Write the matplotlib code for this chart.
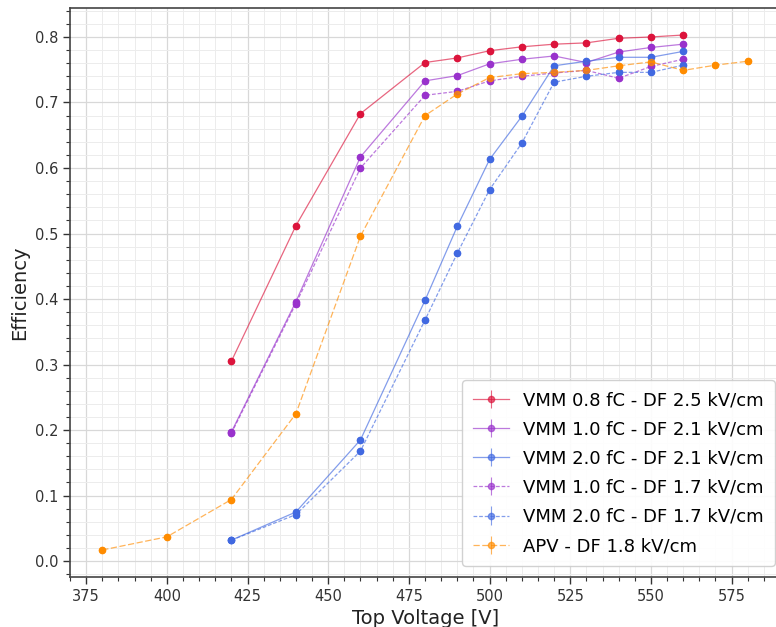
import numpy as np
import matplotlib.pyplot as plt
from matplotlib.ticker import MultipleLocator

# Top voltage scan points [V]
v_vmm = [420, 440, 460, 480, 490, 500, 510, 520, 530, 540, 550, 560]
v_apv = [380, 400, 420, 440, 460, 480, 490, 500, 510, 520, 530, 540, 550, 560, 570, 580]

# Efficiencies per configuration
eff_vmm08_df25 = [0.305, 0.512, 0.683, 0.761, 0.768, 0.779, 0.785, 0.789, 0.791, 0.798, 0.800, 0.803]
eff_vmm10_df21 = [0.197, 0.396, 0.617, 0.733, 0.741, 0.759, 0.766, 0.771, 0.761, 0.777, 0.784, 0.789]
eff_vmm20_df21 = [0.032, 0.075, 0.185, 0.398, 0.511, 0.613, 0.679, 0.756, 0.763, 0.769, 0.769, 0.778]
eff_vmm10_df17 = [0.195, 0.393, 0.600, 0.711, 0.717, 0.733, 0.740, 0.745, 0.749, 0.737, 0.755, 0.766]
eff_vmm20_df17 = [0.032, 0.071, 0.168, 0.368, 0.470, 0.567, 0.638, 0.731, 0.740, 0.746, 0.746, 0.757]
eff_apv_df18 = [0.017, 0.037, 0.094, 0.225, 0.496, 0.680, 0.713, 0.738, 0.744, 0.746, 0.749, 0.756, 0.762, 0.749, 0.757, 0.763]

labels = ['VMM 0.8 fC - DF 2.5 kV/cm', 'VMM 1.0 fC - DF 2.1 kV/cm', 'VMM 2.0 fC - DF 2.1 kV/cm',
          'VMM 1.0 fC - DF 1.7 kV/cm', 'VMM 2.0 fC - DF 1.7 kV/cm', 'APV - DF 1.8 kV/cm']

series = [
    (v_vmm, eff_vmm08_df25, 'crimson', '-'),
    (v_vmm, eff_vmm10_df21, 'darkorchid', '-'),
    (v_vmm, eff_vmm20_df21, 'royalblue', '-'),
    (v_vmm, eff_vmm10_df17, 'darkorchid', (0, (3, 1.5))),
    (v_vmm, eff_vmm20_df17, 'royalblue', (0, (3, 1.5))),
    (v_apv, eff_apv_df18, 'darkorange', (0, (5, 2))),
]

fig = plt.figure(figsize=(7.76, 6.27), dpi=100)
ax = fig.add_axes([0.0902, 0.080, 0.9175, 0.907])

for (x, y, color, ls), label in zip(series, labels):
    yerr = np.full(len(y), 0.003)
    ax.errorbar(x, y, yerr=yerr, color=color, linestyle=ls, linewidth=0.9,
                marker='o', markersize=4.5, alpha=0.65, elinewidth=0.8,
                label=label)
    # solid markers on top of the faint lines
    ax.plot(x, y, 'o', color=color, markersize=4.3, linestyle='none')

ax.set_xlim(370, 590.6)
ax.set_ylim(-0.024, 0.844)
ax.xaxis.set_major_locator(MultipleLocator(25))
ax.xaxis.set_minor_locator(MultipleLocator(5))
ax.yaxis.set_major_locator(MultipleLocator(0.1))
ax.yaxis.set_minor_locator(MultipleLocator(0.02))

ax.grid(which='major', color='#d8d8d8', linewidth=0.9)
ax.grid(which='minor', color='#ececec', linewidth=0.7)
ax.set_axisbelow(True)

ax.tick_params(which='major', length=5, width=1, colors='#333333', labelsize=10.5)
ax.tick_params(which='minor', length=3, width=0.8, colors='#333333')
for side in ['left', 'bottom', 'top', 'right']:
    ax.spines[side].set_color('#444444')
    ax.spines[side].set_linewidth(1.2)

ax.set_xlabel('Top Voltage [V]', fontsize=14, color='#222222')
ax.set_ylabel('Efficiency', fontsize=14, color='#222222')

ax.legend(loc='lower right', bbox_to_anchor=(0.990, 0.0193), borderaxespad=0,
          fontsize=13, handlelength=2.0, labelspacing=0.62, borderpad=0.6,
          framealpha=0.9)

fig.savefig('out.png', dpi=100)
